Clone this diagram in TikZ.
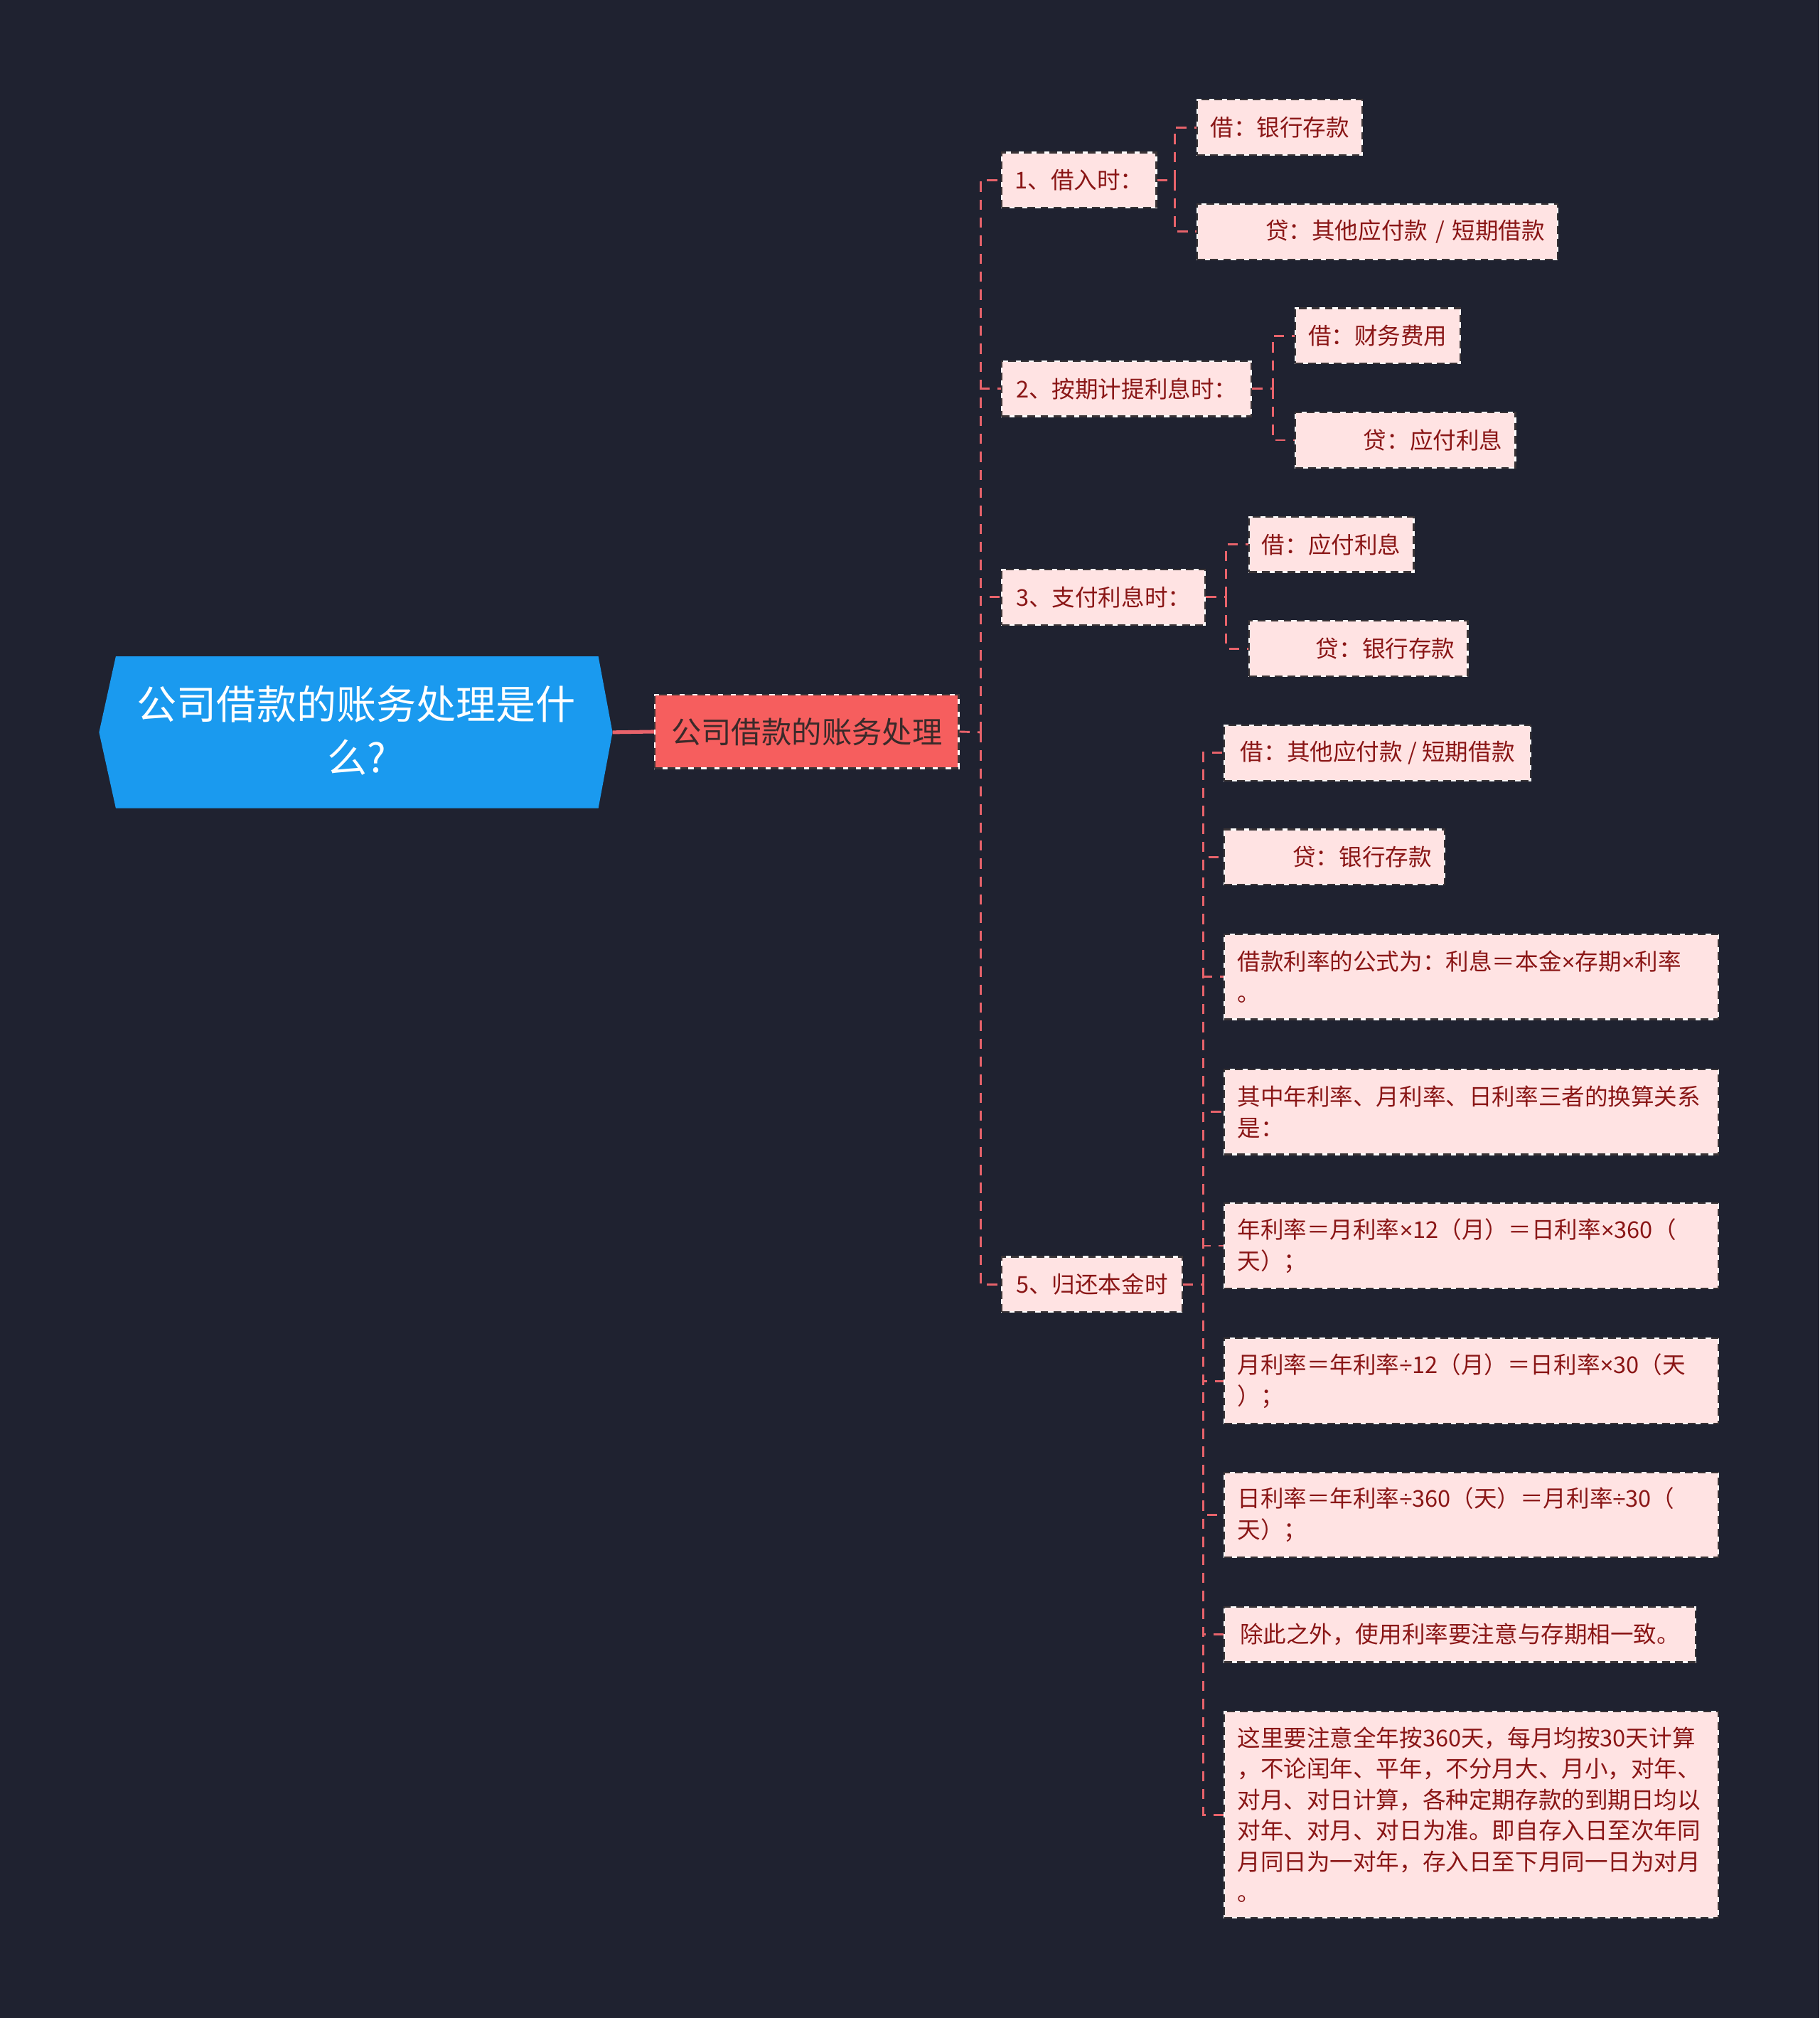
\documentclass[tikz,border=0pt]{standalone}
\usepackage{fontspec}
\setmainfont{Noto Sans CJK SC}
\newfontfamily\latf{Liberation Sans}
\newcommand{\tms}{{\latf ×}}
\newcommand{\dvs}{{\latf ÷}}
\definecolor{bg}{HTML}{1F2230}
\definecolor{rootblue}{HTML}{1A9AEF}
\definecolor{mainfill}{HTML}{F65E5E}
\definecolor{maintext}{HTML}{3A2A2A}
\definecolor{pinkfill}{HTML}{FFE3E3}
\definecolor{pinktext}{HTML}{8A1616}
\definecolor{bdark}{HTML}{3A3436}
\definecolor{conn}{HTML}{E8636B}
\tikzset{
  conn/.style={draw=conn, line width=0.8pt, dash pattern=on 4pt off 3pt},
  connsolid/.style={draw=conn, line width=1.4pt},
  pbox/.style={anchor=west, fill=pinkfill, text=pinktext, draw=white, line width=0.6pt,
    postaction={draw=bdark, line width=0.6pt, dash pattern=on 3pt off 2pt},
    font=\fontsize{9pt}{12pt}\selectfont, inner xsep=5pt, inner ysep=0pt,
    minimum height=21.5pt},
  rbox/.style={pbox, align=right},
  lbox/.style={pbox, align=left, minimum height=33pt},
  mainbox/.style={fill=mainfill, text=maintext, draw=white, line width=0.6pt,
    postaction={draw=bdark, line width=0.6pt, dash pattern=on 3pt off 2pt},
    font=\fontsize{11.7pt}{14pt}\selectfont, minimum width=118pt, minimum height=28.5pt,
    inner sep=0pt},
}
\begin{document}
\begin{tikzpicture}[x=0.5pt,y=-0.5pt]
\fill[bg] (0,0) rectangle (1414,1568);
\useasboundingbox (0,0) rectangle (1414,1568);
% root
\fill[rootblue] (90,510) -- (465,510) -- (476,569) -- (465,628) -- (90,628) -- (77,569) -- cycle;
\node[text=white, align=center, font=\fontsize{15.5pt}{20.5pt}\selectfont, inner sep=0pt] (root) at (277,567.5) {公司借款的账务处理是什\\么?};
\coordinate (rootE) at (476,569);
% main
\node[mainbox] (main) at (627,568.5) {公司借款的账务处理};
\draw[connsolid] (rootE) -- (main.west);
% level 2
\node[pbox, minimum width=59pt] (n1) at (778,140) {1、借入时：};
\node[pbox, minimum width=97pt] (n2) at (778,302) {2、按期计提利息时：};
\node[pbox, minimum width=79pt] (n3) at (778,464) {3、支付利息时：};
\node[pbox, minimum width=70pt] (n5) at (778,998) {5、归还本金时};
\coordinate (t0) at (762,569);
\draw[conn] (main.east) -- (t0);
\draw[conn] (t0) |- (n1.west);
\draw[conn] (t0) |- (n2.west);
\draw[conn] (t0) |- (n3.west);
\draw[conn] (t0) |- (n5.west);
% level 3 under 1
\node[pbox, minimum width=63.5pt] (n1a) at (930,99) {借：银行存款};
\node[rbox, text width=130pt] (n1b) at (930,180) {贷：其他应付款 / 短期借款};
\coordinate (s1) at (913,140);
\draw[conn] (n1.east) -- (s1);
\draw[conn] (s1) |- (n1a.west);
\draw[conn] (s1) |- (n1b.west);
% under 2
\node[pbox, minimum width=64pt] (n2a) at (1006,261) {借：财务费用};
\node[rbox, text width=75.5pt] (n2b) at (1006,342) {贷：应付利息};
\coordinate (s2) at (989,302);
\draw[conn] (n2.east) -- (s2);
\draw[conn] (s2) |- (n2a.west);
\draw[conn] (s2) |- (n2b.west);
% under 3
\node[pbox, minimum width=64pt] (n3a) at (970,423) {借：应付利息};
\node[rbox, text width=75pt] (n3b) at (970,504) {贷：银行存款};
\coordinate (s3) at (953,464);
\draw[conn] (n3.east) -- (s3);
\draw[conn] (s3) |- (n3a.west);
\draw[conn] (s3) |- (n3b.west);
% under 5
\node[pbox, minimum width=119pt] (n5a) at (951,585) {借：其他应付款 / 短期借款};
\node[rbox, text width=75.5pt] (n5b) at (951,666) {贷：银行存款};
\node[lbox, text width=182pt] (n5c) at (951,759) {借款利率的公式为：利息＝本金\tms 存期\tms 利率\\。};
\node[lbox, text width=182pt] (n5d) at (951,864) {其中年利率、月利率、日利率三者的换算关系\\是：};
\node[lbox, text width=182pt] (n5e) at (951,968) {年利率＝月利率\tms 12（月）＝日利率\tms 360（\\天）；};
\node[lbox, text width=182pt] (n5f) at (951,1073) {月利率＝年利率\dvs 12（月）＝日利率\tms 30（天\\）；};
\node[lbox, text width=182pt] (n5g) at (951,1177) {日利率＝年利率\dvs 360（天）＝月利率\dvs 30（\\天）；};
\node[pbox, minimum width=183pt] (n5h) at (951,1270) {除此之外，使用利率要注意与存期相一致。};
\node[lbox, text width=182pt, minimum height=80pt] (n5i) at (951,1410) {这里要注意全年按360天，每月均按30天计算\\，不论闰年、平年，不分月大、月小，对年、\\对月、对日计算，各种定期存款的到期日均以\\对年、对月、对日为准。即自存入日至次年同\\月同日为一对年，存入日至下月同一日为对月\\。};
\coordinate (s5) at (935,998);
\draw[conn] (n5.east) -- (s5);
\foreach \n in {n5a,n5b,n5c,n5d,n5e,n5f,n5g,n5h,n5i} {\draw[conn] (s5) |- (\n.west);}
\end{tikzpicture}
\end{document}
